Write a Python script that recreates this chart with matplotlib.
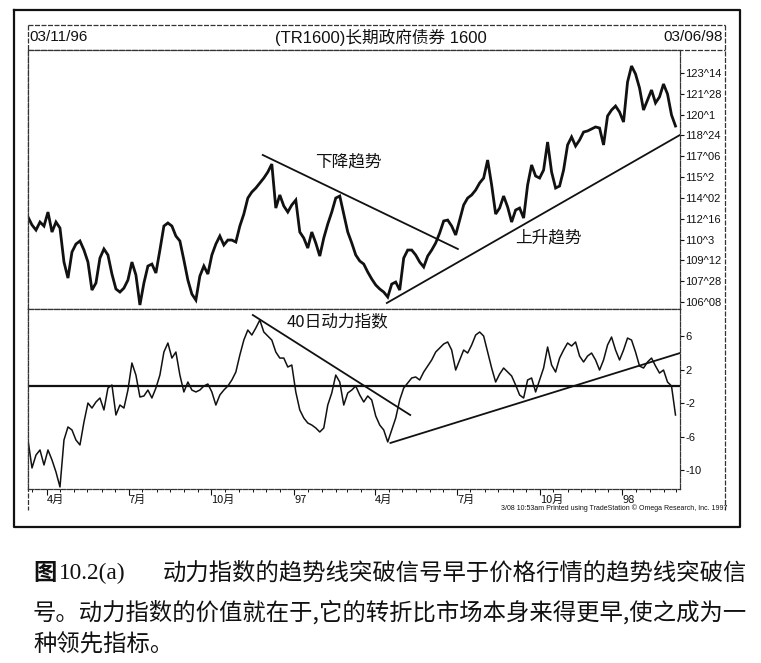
import numpy as np
import matplotlib
matplotlib.use("Agg")
import matplotlib.pyplot as plt
from datetime import date

# ---------------- data ----------------
START = date(1996, 3, 11)
END = date(1998, 3, 6)
LAST_BAR_DAY = 720          # last plotted bar, days after START

price_close = [
    112.63, 112.03, 111.65, 112.25, 111.95, 113.00, 111.50, 112.25, 111.80, 109.25,
    108.05, 110.00, 110.60, 110.83, 110.15, 109.25, 107.15, 107.68, 109.55, 110.23,
    109.78, 108.35, 107.23, 107.00, 107.30, 107.90, 109.25, 108.28, 106.03, 107.68,
    108.95, 109.10, 108.43, 110.15, 111.95, 112.18, 111.95, 111.20, 110.83, 109.40,
    107.90, 106.85, 106.40, 108.20, 108.95, 108.35, 109.78, 110.60, 111.20, 110.53,
    110.90, 110.90, 110.75, 111.95, 112.85, 114.05, 114.50, 114.80, 115.18, 115.55,
    116.00, 116.60, 113.30, 114.28, 113.45, 113.00, 113.53, 113.90, 111.50, 111.05,
    110.30, 111.50, 110.68, 109.70, 111.05, 112.10, 113.00, 114.05, 114.20, 112.85,
    111.50, 110.68, 109.78, 109.33, 109.10, 108.50, 107.98, 107.53, 107.23, 107.00,
    106.63, 107.60, 107.75, 107.15, 109.55, 110.15, 110.15, 109.78, 109.25, 108.88,
    109.70, 110.15, 110.68, 111.43, 112.33, 112.40, 111.95, 111.28, 112.40, 113.53,
    114.05, 114.28, 114.65, 115.18, 115.55, 116.90, 115.03, 112.85, 113.30, 114.20,
    113.38, 112.25, 113.15, 113.30, 112.55, 115.03, 116.53, 115.70, 115.55, 116.15,
    118.25, 116.00, 114.80, 114.95, 116.15, 118.03, 118.63, 117.95, 118.40, 119.00,
    119.08, 119.23, 119.38, 119.30, 118.03, 120.20, 120.65, 120.95, 120.50, 119.75,
    122.75, 123.95, 123.35, 122.30, 120.65, 121.40, 122.15, 121.18, 121.63, 122.60,
    121.85, 120.28, 119.45,
]

momentum = [
    -6.42, -9.76, -8.21, -7.61, -9.40, -7.61, -8.80, -10.24, -12.03, -6.42,
    -4.86, -5.22, -6.42, -7.01, -4.27, -2.00, -2.60, -1.88, -1.40, -2.83,
    -0.21, 0.15, -3.43, -2.24, -2.60, -0.45, 2.78, 1.34, -1.28, -1.16,
    -0.45, -1.40, -0.21, 1.34, 4.09, 5.17, 3.37, 4.09, 1.34, -0.68,
    0.51, -0.45, -0.68, -0.45, 0.03, 0.27, -0.68, -2.24, -1.04, -0.45,
    0.03, 0.75, 1.70, 3.73, 5.52, 6.72, 6.12, 6.96, 7.91, 6.48,
    6.00, 5.52, 4.09, 3.37, 3.37, 2.30, 2.54, -0.68, -2.83, -3.79,
    -4.39, -4.63, -4.98, -5.46, -4.98, -2.24, -0.80, 1.34, 0.51, -2.24,
    -0.80, -0.45, 0.03, -1.04, -1.88, -1.16, -1.64, -3.55, -4.63, -5.22,
    -6.65, -5.22, -3.79, -1.64, -0.21, 0.39, 0.99, 1.11, 0.75, 1.70,
    2.42, 3.14, 4.09, 4.57, 5.05, 5.29, 4.33, 1.94, 3.14, 4.33,
    3.97, 4.93, 6.12, 6.48, 6.00, 4.09, 2.18, 0.51, 1.46, 2.18,
    1.70, 1.23, 0.15, -1.04, -1.40, 0.75, 0.99, -0.68, 0.75, 2.18,
    4.69, 2.54, 1.70, 3.37, 4.33, 5.17, 4.81, 5.29, 3.61, 2.90,
    3.61, 3.97, 3.14, 1.94, 3.14, 4.93, 5.88, 4.33, 3.14, 4.33,
    5.76, 5.52, 4.09, 2.42, 2.18, 2.90, 3.37, 2.42, 1.58, 1.94,
    0.51, 0.03, -3.43,
]

price_ticks = [106.25, 107.8125, 109.375, 110.9375, 112.5, 114.0625,
               115.625, 117.1875, 118.75, 120.3125, 121.875, 123.4375]
price_tick_labels = ["106^08", "107^28", "109^12", "110^3", "112^16", "114^02",
                     "115^2", "117^06", "118^24", "120^1", "121^28", "123^14"]
mom_ticks = [6, 2, -2, -6, -10]

month_dates = [date(1996, 4, 1), date(1996, 7, 1), date(1996, 10, 1), date(1997, 1, 1),
               date(1997, 4, 1), date(1997, 7, 1), date(1997, 10, 1), date(1998, 1, 1)]
month_labels = ["4月", "7月", "10月", "97", "4月", "7月", "10月", "98"]

# trend lines: (day offset, value)
price_down_trend_days = [261, 478]
price_down_trend_vals = [117.28, 110.23]
price_up_trend_days = [399, 725]
price_up_trend_vals = [106.18, 118.78]
mom_down_trend_days = [250, 425]
mom_down_trend_vals = [8.51, -3.43]
mom_up_trend_days = [403, 725]
mom_up_trend_vals = [-6.77, 3.97]

# ---------------- layout helpers ----------------
W, H = 761, 663
fig = plt.figure(figsize=(W / 100, H / 100), dpi=100)
fig.patch.set_facecolor("white")

def fx(px):
    return px / W

def fy(py):
    return 1 - py / H

SANS = ["Liberation Sans", "Noto Sans CJK SC", "DejaVu Sans"]
CJK = ["Noto Sans CJK SC", "DejaVu Sans"]
INK = "#111111"
DASH = (0, (4, 1.2))

span = (END - START).days

# background frame axes in pixel units
bg = fig.add_axes([0, 0, 1, 1], zorder=-5)
bg.set_xlim(0, W)
bg.set_ylim(H, 0)
bg.axis("off")
# outer frame
bg.plot([14, 740, 740, 14, 14], [10, 10, 527, 527, 10], color=INK, lw=1.6)
# inner frame and title strip
bg.plot([28, 725], [25, 25], color="#333", lw=0.9, ls=DASH)
bg.plot([28, 725], [50, 50], color="#333", lw=0.9, ls=DASH)
bg.plot([28, 28], [25, 510], color="#333", lw=0.9, ls=DASH)
bg.plot([725, 725], [25, 510], color="#333", lw=0.9, ls=DASH)

# ---------------- price panel ----------------
L, R = 28, 680
axp = fig.add_axes([fx(L), fy(309), (R - L) / W, (309 - 50) / H])
xp = np.linspace(0, LAST_BAR_DAY, len(price_close))
axp.plot(xp, price_close, color=INK, lw=2.0, solid_joinstyle="miter")
axp.plot(price_down_trend_days, price_down_trend_vals, color=INK, lw=1.3)
axp.plot(price_up_trend_days, price_up_trend_vals, color=INK, lw=1.3)
axp.set_xlim(0, span)
axp.set_ylim(105.73, 125.15)
axp.set_xticks([])
axp.yaxis.tick_right()
axp.set_yticks(price_ticks)
axp.set_yticklabels(price_tick_labels, fontsize=8, family=SANS)
axp.tick_params(axis="y", direction="out", length=3, width=0.8, pad=1, colors=INK)
for s in axp.spines.values():
    s.set_linestyle(DASH)
    s.set_linewidth(0.9)
    s.set_color("#333")
axp.text(356, 116.75, "下降趋势", fontsize=12, family=CJK, ha="center", va="center", color=INK)
axp.text(579, 111.05, "上升趋势", fontsize=12, family=CJK, ha="center", va="center", color=INK)

# ---------------- momentum panel ----------------
axm = fig.add_axes([fx(L), fy(489), (R - L) / W, (489 - 309) / H])
xm = np.linspace(0, LAST_BAR_DAY, len(momentum))
axm.plot(xm, momentum, color=INK, lw=1.1)
axm.axhline(0, color=INK, lw=1.6)
axm.plot(mom_down_trend_days, mom_down_trend_vals, color=INK, lw=1.3)
axm.plot(mom_up_trend_days, mom_up_trend_vals, color=INK, lw=1.3)
axm.set_xlim(0, span)
axm.set_ylim(-12.27, 9.23)
axm.yaxis.tick_right()
axm.set_yticks(mom_ticks)
axm.set_yticklabels([str(v) for v in mom_ticks], fontsize=8, family=SANS)
axm.tick_params(axis="y", direction="out", length=3, width=0.8, pad=1, colors=INK)

month_pos = [(d - START).days for d in month_dates]
axm.set_xticks(month_pos)
axm.set_xticklabels(month_labels, fontsize=8, family=CJK, ha="left")
minor_pos = []
for y in (1996, 1997, 1998):
    for m in range(1, 13):
        for dd in (1, 16):
            d = date(y, m, dd)
            if START < d < END:
                minor_pos.append((d - START).days)
axm.set_xticks(minor_pos, minor=True)
axm.tick_params(axis="x", which="major", direction="out", length=4, width=0.8, pad=0, colors=INK)
axm.tick_params(axis="x", which="minor", direction="out", length=2.5, width=0.7, colors=INK)
for s in axm.spines.values():
    s.set_linestyle(DASH)
    s.set_linewidth(0.9)
    s.set_color("#333")
axm.text(344, 7.67, "40日动力指数", fontsize=12, family=CJK, ha="center", va="center", color=INK)

# ---------------- header / footer texts ----------------
fig.text(fx(29), fy(37), "03/11/96", fontsize=11, family=SANS, ha="left", va="center", color=INK)
fig.text(fx(723), fy(37), "03/06/98", fontsize=11, family=SANS, ha="right", va="center", color=INK)
fig.text(fx(381), fy(37), "(TR1600)长期政府债券 1600", fontsize=12, family=SANS,
         ha="center", va="center", color=INK)
fig.text(fx(727), fy(508), "3/08 10:53am Printed using TradeStation © Omega Research, Inc. 1997",
         fontsize=5, family=SANS, ha="right", va="center", color=INK)

# ---------------- caption ----------------
CAP = 16.8
fig.text(fx(33), fy(573), "图", fontsize=CAP, family=CJK, fontweight="bold", ha="left", va="center", color=INK)
fig.text(fx(59), fy(573), "10.2(a)", fontsize=CAP, family=["Liberation Serif", "DejaVu Serif"],
         ha="left", va="center", color=INK)
fig.text(fx(163), fy(573), "动力指数的趋势线突破信号早于价格行情的趋势线突破信",
         fontsize=CAP, family=CJK, ha="left", va="center", color=INK)
fig.text(fx(33), fy(612), "号。动力指数的价值就在于,它的转折比市场本身来得更早,使之成为一",
         fontsize=CAP, family=CJK, ha="left", va="center", color=INK)
fig.text(fx(33), fy(645), "种领先指标。", fontsize=CAP, family=CJK, ha="left", va="center", color=INK)

fig.savefig("out.png", dpi=100, facecolor="white")
